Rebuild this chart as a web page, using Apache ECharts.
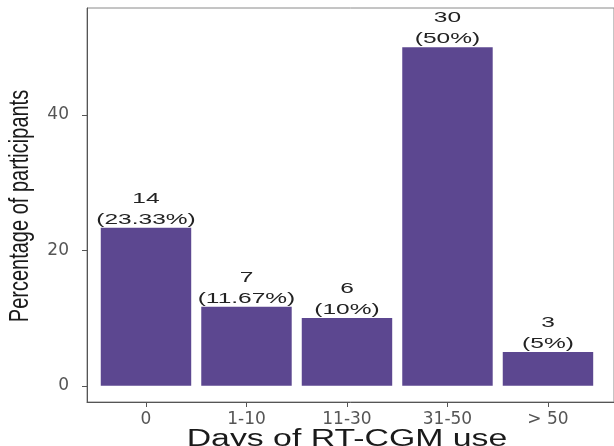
<!DOCTYPE html>
<html>
<head>
<meta charset="utf-8">
<script src="https://cdn.jsdelivr.net/npm/echarts@6/dist/echarts.min.js"></script>
<style>
html,body{margin:0;padding:0;background:#fff;}
#chart{width:614px;height:446px;}
</style>
</head>
<body>
<div id="chart"></div>
<script>
const categories = ['0', '1-10', '11-30', '31-50', '> 50'];
const percentages = [23.33, 11.67, 10, 50, 5];
const counts = [14, 7, 6, 30, 3];
const pctLabels = ['23.33%', '11.67%', '10%', '50%', '5%'];
const yTicks = [0, 20, 40];

const barData = percentages.map((v, i) => [i, v]);
const labelData = percentages.map((v, i) => [i, v, counts[i], pctLabels[i]]);

const chart = echarts.init(document.getElementById('chart'), null, {renderer: 'canvas'});
const option = {
  animation: false,
  backgroundColor: '#ffffff',
  grid: {
    left: 87, right: -1, top: 8, bottom: 44,
    show: true, borderColor: '#8a8a8a', borderWidth: 1, backgroundColor: 'transparent'
  },
  xAxis: {
    type: 'value',
    min: -0.587, max: 4.657,
    splitLine: {show: false},
    axisLine: {show: true, onZero: false, lineStyle: {color: '#555', width: 1}},
    axisTick: {show: true, length: 5, customValues: categories.map((c, i) => i), lineStyle: {color: '#555'}},
    axisLabel: {
      customValues: categories.map((c, i) => i),
      formatter: v => categories[Math.round(v)],
      color: '#555', fontFamily: 'DejaVu Sans', fontSize: 17, margin: 9
    }
  },
  yAxis: {
    type: 'value',
    min: -2.4, max: 55.8,
    splitLine: {show: false},
    axisLine: {show: true, onZero: false, lineStyle: {color: '#555', width: 1}},
    axisTick: {show: true, length: 5, customValues: yTicks, lineStyle: {color: '#555'}},
    axisLabel: {customValues: yTicks, color: '#555', fontFamily: 'DejaVu Sans', fontSize: 17, margin: 18}
  },
  series: [
    {
      type: 'bar',
      data: barData,
      barWidth: '90%',
      itemStyle: {color: '#5c4790'},
      silent: true
    },
    {
      type: 'custom',
      data: labelData,
      silent: true,
      clip: false,
      renderItem: function (params, api) {
        const pt = api.coord([api.value(0), api.value(1)]);
        const idx = params.dataIndex;
        return {
          type: 'text',
          x: pt[0],
          y: pt[1] + 2.5,
          scaleX: 1.75,
          style: {
            text: counts[idx] + '\n(' + pctLabels[idx] + ')',
            textAlign: 'center',
            textVerticalAlign: 'bottom',
            font: '14px "Liberation Sans", Arial, sans-serif',
            lineHeight: 21,
            fill: '#222'
          }
        };
      }
    }
  ],
  graphic: [
    {
      type: 'text',
      x: 347, y: 440,
      scaleX: 1.47,
      style: {
        text: 'Days of RT-CGM use',
        textAlign: 'center', textVerticalAlign: 'middle',
        font: '23px "Liberation Sans", Arial, sans-serif',
        fill: '#1a1a1a'
      }
    },
    {
      type: 'text',
      x: 21, y: 206,
      rotation: Math.PI / 2,
      scaleY: 1.35,
      style: {
        text: 'Percentage of participants',
        textAlign: 'center', textVerticalAlign: 'middle',
        font: '20px "Liberation Sans", Arial, sans-serif',
        fill: '#1a1a1a'
      }
    }
  ]
};
chart.setOption(option);
</script>
</body>
</html>
